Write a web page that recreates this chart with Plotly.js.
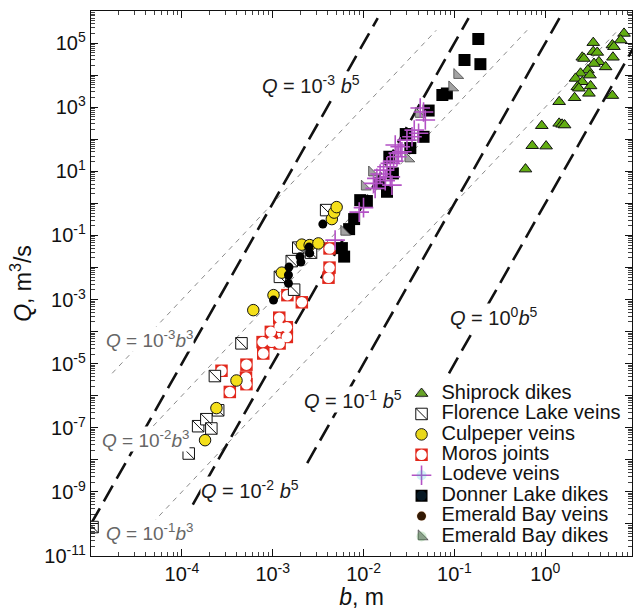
<!DOCTYPE html>
<html><head><meta charset="utf-8">
<script src="https://cdn.plot.ly/plotly-3.0.1.min.js"></script>
<style>html,body{margin:0;padding:0;background:#fff}#chart{width:636px;height:610px}</style>
</head><body><div id="chart"></div>
<script>
// ---------------- data (b in m, Q in m^3/s) ----------------
const shiprockB = [7.35, 6.75, 3.37, 5.47, 5.69, 3.37, 3.73, 2.55, 5.55, 2.66, 3.89, 3.43, 4.61, 2.94, 2.44, 3.10, 2.15, 2.55, 2.25, 3.15, 2.34, 3.02, 2.10, 5.47, 1.42, 0.914, 1.42, 1.53, 1.63, 0.718, 1.02, 0.605];
const shiprockQ = [2.0e5, 1.24e5, 1.03e5, 8.7e4, 7.7e4, 5.4e4, 5.1e4, 3.6e4, 3.6e4, 3.3e4, 2.6e4, 2.3e4, 1.8e4, 1.44e4, 1.14e4, 1.0e4, 7.9e3, 6.2e3, 4.3e3, 4.6e3, 3.9e3, 2.7e3, 1.97e3, 2.3e3, 1.48e3, 264, 313, 292, 277, 62.7, 61, 11.7];

const florenceB = [1.04e-5, 1.19e-4, 1.51e-4, 1.86e-4, 2.11e-4, 2.51e-4, 2.31e-4, 4.53e-4, 1.20e-3, 1.72e-3, 1.62e-3, 1.91e-3, 2.64e-3, 3.87e-3];
const florenceQ = [8.0e-11, 1.57e-8, 1.12e-7, 1.85e-7, 9.5e-8, 3.5e-7, 4.1e-6, 4.3e-5, 5.1e-3, 2.03e-3, 0.0158, 0.0416, 0.029, 0.617];

const culpeperB = [1.80e-4, 2.40e-4, 3.99e-4, 6.11e-4, 1.02e-3, 1.26e-3, 2.09e-3, 2.55e-3, 3.18e-3, 4.47e-3, 4.74e-3, 5.05e-3];
const culpeperQ = [4.1e-8, 4.1e-7, 2.98e-6, 4.67e-4, 1.37e-3, 6.9e-3, 0.0516, 0.0498, 0.0563, 0.323, 0.515, 0.763];

const morosB = [2.73e-4, 3.37e-4, 5.14e-4, 5.08e-4, 5.14e-4, 7.73e-4, 7.87e-4, 9.53e-4, 1.18e-3, 1.19e-3, 1.43e-3, 1.43e-3, 1.19e-3, 9.75e-4, 1.45e-3, 2.09e-3, 4.22e-3, 4.22e-3, 4.11e-3];
const morosQ = [6.0e-6, 1.31e-6, 9.3e-6, 3.7e-6, 2.29e-6, 4.7e-5, 2.07e-5, 9.8e-5, 2.72e-4, 1.42e-4, 1.37e-4, 6.8e-5, 4.26e-5, 4.8e-5, 1.37e-3, 8.2e-4, 0.0393, 9.9e-3, 4.8e-3];

const lodeveB = [0.0457, 0.0420, 0.0478, 0.0403, 0.0341, 0.030, 0.0253, 0.0223, 0.0264, 0.0233, 0.0214, 0.0197, 0.0181, 0.0166, 0.0152, 0.0197, 0.0140, 0.0173, 0.01285, 0.0205, 0.0134, 0.00998, 0.00895, 0.00486, 0.0361, 0.0241];
const lodeveQ = [705, 940, 397, 153, 119, 94, 58, 66, 40.6, 28.4, 20.8, 17.7, 13.8, 10.9, 8.2, 6.7, 6.0, 5.1, 4.2, 3.7, 2.93, 0.738, 0.533, 0.0713, 193, 37];

const donnerB = [0.183, 0.129, 0.193, 0.0736, 0.0825, 0.052, 0.0291, 0.0457, 0.0327, 0.0192, 0.021, 0.0152, 0.0181, 0.00918, 0.01087, 0.00787, 0.00693, 0.00577, 0.00611];
const donnerQ = [1.34e5, 2.96e4, 2.2e4, 2.4e3, 2.67e3, 785, 145, 119, 53, 28.4, 8.6, 4.2, 2.3, 1.26, 1.18, 0.323, 0.157, 0.0402, 0.0218];

const ebVeinsB = [1.02e-3, 1.49e-3, 1.49e-3, 1.51e-3, 2.0e-3, 2.04e-3, 2.51e-3, 2.55e-3, 3.56e-3];
const ebVeinsQ = [9.6e-4, 5.8e-3, 3.2e-3, 0.0103, 0.0215, 0.0147, 0.0432, 0.028, 0.225];

const ebDikesB = [0.107, 0.0942, 0.0403, 0.031, 0.01236, 0.01028, 0.00611];
const ebDikesQ = [1.0e4, 4.1e3, 611, 25, 9.1, 3.3, 0.129];

// reference lines Q = C b^n, drawn between Qmin and Qmax
const b5Coef = [1e15, 1e10, 1e5, 1];
const b5Qmin = [1e-10, 4.0e-10, 7.9e-9, 5.0e-6];
const b5Qmax = [6e5, 6e5, 6e5, 6e5];
const b3Coef = [1e9, 1e6, 1e3];
const b3Qmin = [5.0e-6, 4.0e-8, 6.3e-11];
const b3Qmax = [2.5e5, 2.5e5, 2.5e5];

const seriesNames = ['Shiprock dikes', 'Florence Lake veins', 'Culpeper veins', 'Moros joints', 'Lodeve veins', 'Donner Lake dikes', 'Emerald Bay veins', 'Emerald Bay dikes'];

// tick labels (exponents)
const xTickExp = [-4, -3, -2, -1, 0];
const yTickExp = [-11, -9, -7, -5, -3, -1, 1, 3, 5];

// ---------------- build ----------------
const FONT = 'Liberation Sans, Arial, Helvetica, sans-serif';
const nm = s => '<span style="font-size:20px">' + s + '</span>';
const sup = s => '<span style="font-size:70%;baseline-shift:0.6em">' + s + '</span>';
const traces = [];

function seg(coef, n, qmin, qmax) {
  return {x: [Math.pow(qmin / coef, 1 / n), Math.pow(qmax / coef, 1 / n)], y: [qmin, qmax]};
}
b3Coef.forEach((c, i) => {
  const s = seg(c, 3, b3Qmin[i], b3Qmax[i]);
  traces.push({type: 'scatter', mode: 'lines', x: s.x, y: s.y, showlegend: false, hoverinfo: 'skip',
    line: {color: '#8a8a8a', width: 1, dash: '5px,5px'}});
});
b5Coef.forEach((c, i) => {
  const s = seg(c, 5, b5Qmin[i], b5Qmax[i]);
  traces.push({type: 'scatter', mode: 'lines', x: s.x, y: s.y, showlegend: false, hoverinfo: 'skip',
    line: {color: '#111', width: 2.6, dash: '18px,8px'}});
});

function pts(x, y, name, rank, marker, extra) {
  return Object.assign({type: 'scatter', mode: 'markers', x: x, y: y, name: nm(name), legendrank: rank,
    hoverinfo: 'skip', marker: marker}, extra || {});
}
traces.push(pts(shiprockB, shiprockQ, seriesNames[0], 1,
  {symbol: 'triangle-up', size: 11, color: '#62ad12', line: {color: '#111', width: 1}}));
traces.push(pts(morosB, morosQ, seriesNames[3], 4,
  {symbol: 'square', size: 12.5, color: '#e2281c', line: {width: 0}}));
traces.push(pts(morosB, morosQ, seriesNames[3], 4,
  {symbol: 'circle', size: 10.5, color: '#ffffff', line: {width: 0}}, {legend: 'legend2'}));
traces.push(pts(florenceB, florenceQ, seriesNames[1], 2,
  {symbol: 'square', size: 11.5, color: '#ffffff', line: {color: '#111', width: 1}}));
traces.push(pts(florenceB, florenceQ, seriesNames[1], 2,
  {symbol: 'line-nw', size: 11.5, color: '#111', line: {color: '#111', width: 1}}, {legend: 'legend2'}));
traces.push(pts(culpeperB, culpeperQ, seriesNames[2], 3,
  {symbol: 'circle', size: 11.5, color: '#f4df1a', line: {color: '#111', width: 1}}));
traces.push(pts(ebVeinsB, ebVeinsQ, seriesNames[6], 7,
  {symbol: 'circle', size: 9, color: '#000', line: {width: 0}}));
traces.push(pts(donnerB, donnerQ, seriesNames[5], 6,
  {symbol: 'square', size: 12, color: '#000', line: {width: 0}}));
traces.push(pts(ebDikesB, ebDikesQ, seriesNames[7], 8,
  {symbol: 'triangle-sw', size: 11, color: '#a3a3a3', line: {color: '#444', width: 0.8}}));
traces.push(pts(lodeveB, lodeveQ, seriesNames[4], 5,
  {symbol: 'cross-thin-open', size: 14, color: '#b352c5', line: {color: '#b352c5', width: 1.6}}));

// placeholder rows for the overlay legend (keeps rows aligned)
[0, 2, 4, 5, 6, 7].forEach(i => {
  traces.push({type: 'scatter', mode: 'markers', x: [null], y: [null], name: nm(seriesNames[i]),
    legendrank: i + 1, legend: 'legend2', hoverinfo: 'skip', marker: {opacity: 0, size: 10}});
});
// carrier trace for the decade-tick overlay axes
traces.push({type: 'scatter', mode: 'markers', x: [null], y: [null], xaxis: 'x2', yaxis: 'y2',
  showlegend: false, hoverinfo: 'skip'});

// ticks
const xMajor = xTickExp.map(k => Math.pow(10, k));
const xText = xTickExp.map(k => '10' + sup(k));
const yMajor = yTickExp.map(k => Math.pow(10, k));
const yText = yTickExp.map(k => '10' + sup(k));
const xDecades = [], xMinor = [], yDecades = [], yMinor = [];
for (let k = -5; k <= 0; k++) {
  xDecades.push(Math.pow(10, k));
  for (let m = 2; m <= 9; m++) xMinor.push(m * Math.pow(10, k));
}
for (let k = -11; k <= 6; k++) {
  yDecades.push(Math.pow(10, k));
  for (let m = 2; m <= 9; m++) yMinor.push(m * Math.pow(10, k));
}

const axisCommon = {
  type: 'log', showline: true, linecolor: '#111', linewidth: 1.2, mirror: 'allticks',
  ticks: 'inside', ticklen: 7, tickwidth: 1, tickcolor: '#111', showgrid: false, zeroline: false,
  tickmode: 'array', tickfont: {family: FONT, size: 20, color: '#111'},
};
const overlayAxis = {
  type: 'log', showline: true, linecolor: '#111', linewidth: 1.2, mirror: 'allticks',
  ticks: 'inside', ticklen: 7, tickwidth: 1, tickcolor: '#111', showgrid: false, zeroline: false,
  tickmode: 'array', showticklabels: false
};

const lab = (t, x, y, gray) => ({
  text: t, x: x, y: y, xref: 'x', yref: 'y', showarrow: false, xanchor: 'center', yanchor: 'middle',
  bgcolor: '#ffffff', borderpad: 0,
  font: {family: FONT, size: gray ? 19 : 20, color: gray ? '#666' : '#1a1a1a'}
});

const layout = {
  width: 636, height: 610,
  margin: {l: 91, r: 4, t: 11, b: 54},
  paper_bgcolor: '#fff', plot_bgcolor: '#fff',
  showlegend: true,
  font: {family: FONT, color: '#111'},
  xaxis: Object.assign({}, axisCommon, {
    range: [-5, 0.954], tickvals: xMajor, ticktext: xText,
    minor: {tickmode: 'array', tickvals: xMinor, ticks: 'inside', ticklen: 4, tickwidth: 0.8, tickcolor: '#111'},
    title: {text: '<i>b</i>, m', font: {family: FONT, size: 23, color: '#111'}, standoff: 4}
  }),
  yaxis: Object.assign({}, axisCommon, {
    range: [-11, 6], tickvals: yMajor, ticktext: yText,
    minor: {tickmode: 'array', tickvals: yMinor, ticks: 'inside', ticklen: 4, tickwidth: 0.8, tickcolor: '#111'},
    title: {text: '<i>Q</i>, m' + sup('3') + '/s', font: {family: FONT, size: 23, color: '#111'}, standoff: 6}
  }),
  xaxis2: Object.assign({}, overlayAxis, {overlaying: 'x', anchor: 'y2', side: 'bottom',
    range: [-5, 0.954], tickvals: xDecades}),
  yaxis2: Object.assign({}, overlayAxis, {overlaying: 'y', anchor: 'x2', side: 'left',
    range: [-11, 6], tickvals: yDecades}),
  legend: {x: 0.574, y: 0.326, xanchor: 'left', yanchor: 'top', bgcolor: 'rgba(0,0,0,0)',
    font: {family: FONT, size: 13.4, color: '#111'}, tracegroupgap: 0, itemclick: false},
  legend2: {x: 0.574, y: 0.326, xanchor: 'left', yanchor: 'top', bgcolor: 'rgba(0,0,0,0)',
    font: {family: FONT, size: 13.4, color: 'rgba(0,0,0,0)'}, tracegroupgap: 0, itemclick: false},
  annotations: [
    lab('<i>Q</i> = 10' + sup('-3') + ' <i>b</i>' + sup('5'), -2.578, 3.72),
    lab('<i>Q</i> = 10' + sup('-2') + ' <i>b</i>' + sup('5'), -3.25, -8.92),
    lab('<i>Q</i> = 10' + sup('-1') + ' <i>b</i>' + sup('5'), -2.115, -6.11),
    lab('<i>Q</i> = 10' + sup('0') + '<i>b</i>' + sup('5'), -0.56, -3.52),
    lab('<i>Q</i> = 10' + sup('-3') + '<i>b</i>' + sup('3'), -4.353, -4.24, true),
    lab('<i>Q</i> = 10' + sup('-2') + '<i>b</i>' + sup('3'), -4.397, -7.36, true),
    lab('<i>Q</i> = 10' + sup('-1') + '<i>b</i>' + sup('3'), -4.353, -10.26, true)
  ]
};

Plotly.newPlot('chart', traces, layout, {staticPlot: true, displayModeBar: false});
</script></body></html>
